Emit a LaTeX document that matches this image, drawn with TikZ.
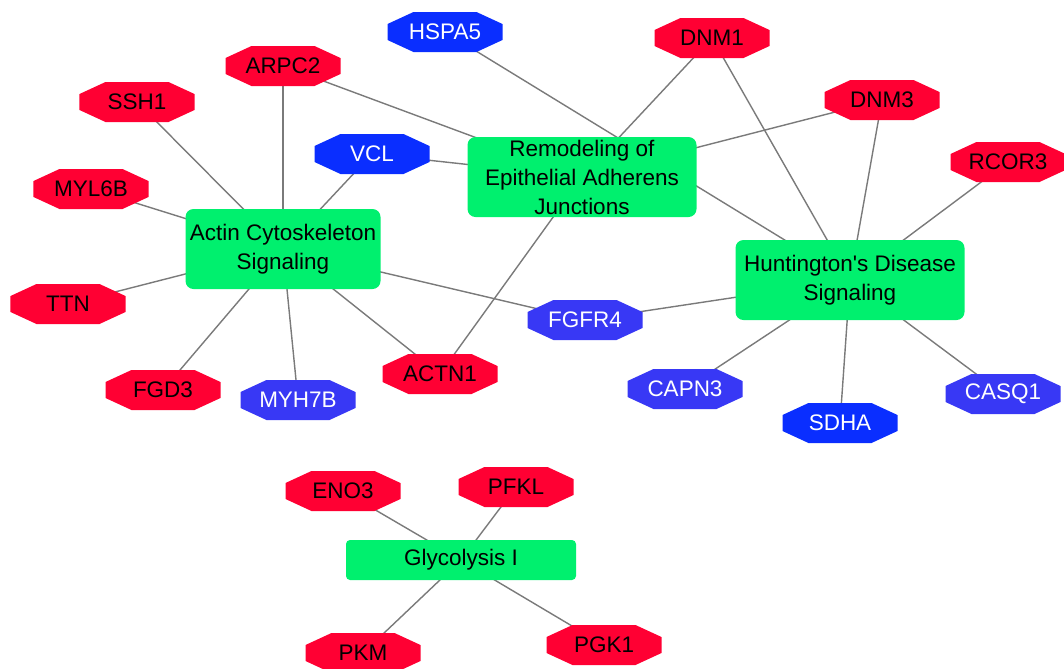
\documentclass[tikz,border=0pt]{standalone}
\usepackage{fontspec}
\setmainfont{Liberation Sans}
\usepackage{tikz}
\usetikzlibrary{calc, backgrounds}

\definecolor{rojo}{HTML}{FF0033}
\definecolor{azul}{HTML}{0A2EFF}
\definecolor{azulc}{HTML}{3838F5}
\definecolor{verde}{HTML}{00F06E}
\definecolor{arista}{HTML}{7A7A7A}

\begin{document}
\begin{tikzpicture}[
		x=0.25mm, y=-0.25mm,
		font=\fontsize{16pt}{20.6pt}\selectfont,
		gen/.style={
			rectangle,
			minimum width=28.75mm,
			minimum height=10mm,
			inner sep=0pt,
			path picture={
				\fill[#1]
				([xshift=6.5mm]path picture bounding box.north west) --
				([xshift=-6.5mm]path picture bounding box.north east) --
				([yshift=-3mm]path picture bounding box.north east) --
				([yshift=3mm]path picture bounding box.south east) --
				([xshift=-6.5mm]path picture bounding box.south east) --
				([xshift=6.5mm]path picture bounding box.south west) --
				([yshift=3mm]path picture bounding box.south west) --
				([yshift=-3mm]path picture bounding box.north west) -- cycle;
			}
		},
		gr/.style={gen=rojo, text=black},
		gb/.style={gen=azul, text=white},
		gl/.style={gen=azulc, text=white},
		via/.style={
			rectangle,
			rounded corners=2mm,
			fill=verde,
			inner sep=0pt,
			minimum height=20mm,
			align=center
		},
		ln/.style={
			draw=arista,
			line width=1pt
		}
		]
		
		\useasboundingbox (0,0) rectangle (1064,668);
		
		% Vías
		\node[via, minimum width=48.75mm] (actin) at (283,249)
		{Actin Cytoskeleton\\Signaling};
		
		\node[via, minimum width=57.25mm] (remod) at (582,177)
		{Remodeling of\\Epithelial Adherens\\Junctions};
		
		\node[via, minimum width=57.25mm] (hunt) at (850,280)
		{Huntington\textquotesingle s Disease\\Signaling};
		
		\node[via, minimum width=57.5mm, minimum height=10mm,
		rounded corners=1mm] (glyc) at (461,560)
		{Glycolysis I};
		
		% Genes
		\node[gb] (hspa5) at (445,32) {HSPA5};
		\node[gr] (dnm1)  at (712,38) {DNM1};
		\node[gr] (arpc2) at (283,66) {ARPC2};
		\node[gr] (dnm3)  at (882,100) {DNM3};
		\node[gr] (ssh1)  at (137,102) {SSH1};
		\node[gb] (vcl)   at (372,154) {VCL};
		\node[gr] (rcor3) at (1008,162) {RCOR3};
		\node[gr] (myl6b) at (91,189) {MYL6B};
		\node[gr] (ttn)   at (68,304) {TTN};
		\node[gl] (fgfr4) at (585,320) {FGFR4};
		\node[gr] (actn1) at (440,374) {ACTN1};
		\node[gr] (fgd3)  at (163,390) {FGD3};
		\node[gl] (myh7b) at (298,400) {MYH7B};
		\node[gl] (capn3) at (685,389) {CAPN3};
		\node[gl] (casq1) at (1003,394) {CASQ1};
		\node[gb] (sdha)  at (840,423) {SDHA};
		\node[gr] (eno3)  at (343,491) {ENO3};
		\node[gr] (pfkl)  at (516,487) {PFKL};
		\node[gr] (pkm)   at (363,653) {PKM};
		\node[gr] (pgk1)  at (604,645) {PGK1};
		
		% Aristas
		\begin{scope}[on background layer]
			\foreach \g in {arpc2, ssh1, vcl, myl6b, ttn, fgd3, myh7b, actn1, fgfr4}
			\draw[ln] (actin.center) -- (\g.center);
			
			\foreach \g in {arpc2, vcl, dnm1, dnm3, actn1}
			\draw[ln] (remod.center) -- (\g.center);
			
			\foreach \g in {hspa5, dnm1, dnm3, rcor3, fgfr4, capn3, sdha, casq1}
			\draw[ln] (hunt.center) -- (\g.center);
			
			\foreach \g in {eno3, pfkl, pkm, pgk1}
			\draw[ln] (glyc.center) -- (\g.center);
		\end{scope}
		
	\end{tikzpicture}
\end{document}
